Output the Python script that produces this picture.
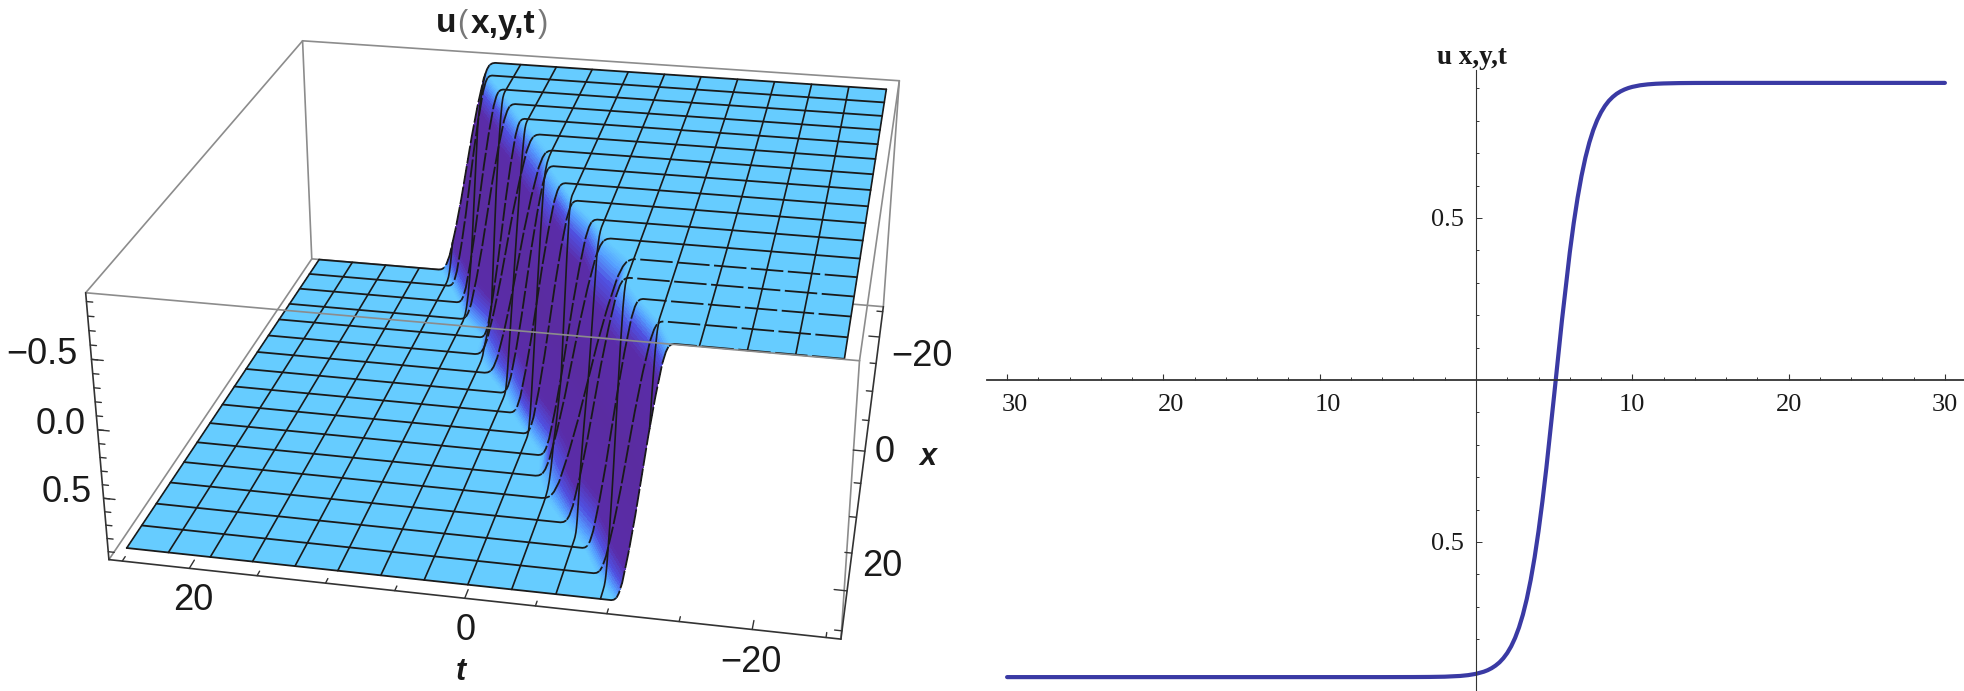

import numpy as np, pandas as pd, matplotlib
matplotlib.use("Agg")
import matplotlib.pyplot as plt, seaborn as sns
from matplotlib.colors import LinearSegmentedColormap
from matplotlib.transforms import ScaledTranslation

W,H=1965,691
t_curve=[-30,-20,-10,-6,-4,-3,-2,-1,-.5,0,.5,.75,1,1.25,1.5,1.75,2,2.25,2.5,2.75,3,3.25,3.5,3.75,4,4.25,4.5,5,5.5,6,6.25,6.5,6.75,7,7.25,7.5,7.75,8,8.25,8.5,8.75,9,9.25,9.5,9.75,10,10.5,11,11.5,12,13,14,16,20,30]
u_curve=[-.917,-.917,-.917,-.917,-.9168,-.9165,-.9157,-.9134,-.9109,-.9069,-.9003,-.8956,-.8894,-.8815,-.8716,-.8587,-.8425,-.8220,-.7962,-.7640,-.7243,-.6757,-.6170,-.5475,-.4665,-.3744,-.2722,-.0468,.1845,.3937,.4836,.5622,.6297,.6863,.7329,.7711,.8018,.8263,.8460,.8616,.8737,.8834,.8908,.8966,.9012,.9047,.9096,.9125,.9143,.9153,.9164,.9168,.917,.917,.917]
x_rows=[-25+3.125*i for i in range(17)]
t_high=[9.0,8.5,6.9,5.3,3.8,2.1,.5,-.3,-1.8,-3.3,-5.3,-6.7,-8.9,-9.1,-10.6,-12.4,-13.6]
t_low=[13.3,11.8,10.3,9.2,6.9,6.5,5.0,3.1,1.7,0.0,-1.8,-2.3,-3.5,-5.3,-7.4,-8.8,-10.5]
wall_s=[-.12,-.06,0,.05,.12,.25,.38,.5,.62,.75,.88,.95,1,1.06,1.12]
wall_u=[-.917,-.912,-.895,-.86,-.78,-.55,-.28,0,.28,.55,.78,.86,.895,.912,.917]
wall_tone=[1,.85,1,.7,1,.65,.95,.6,1,.7,.95,.55,.9,.6,.85,1]
z_major=[-.5,0,.5]; z_minor=[round(-.9+.1*i,1) for i in range(19)]
t_major=[20,0,-20]; t_minor=[-25,-15,-10,-5,5,10,15,25]
x_major=[-20,0,20]; x_minor=[-25,-15,-10,-5,5,10,15,25]
curve_ticks=[-30,-20,-10,10,20,30]
curve_tick_labels=["30","20","10","10","20","30"]

sns.set_theme(style="white")
plt.rcParams['font.family']=['Liberation Sans','DejaVu Sans']
fig=plt.figure(figsize=(W/100,H/100),dpi=100)
ax=fig.add_axes([0.023000625756745618,-0.16542207108835205,0.48676295109511974,1.422257161576125],projection='3d')
LT,LX,LZ=26,26,.96
ax.set_xlim(-LT,LT);ax.set_ylim(-LX,LX);ax.set_zlim(-LZ,LZ)
ax.view_init(25.0069,100.8665,-0.1142);ax.set_proj_type('persp',focal_length=.4435);ax.set_box_aspect((1,1.0068,.3927))
ax.apply_aspect=lambda position=None:None
ax.set_axis_off();ax.computed_zorder=False
X=np.array(x_rows);t_hi=np.array(t_high);t_lo=np.array(t_low)
ws=np.array(wall_s);wu=np.array(wall_u)
s_fine=np.linspace(ws[0],ws[-1],73)
u_fine=np.interp(s_fine,ws,wu)
S=np.r_[ws[0],s_fine,ws[-1]]
U=np.r_[wu[0],u_fine,wu[-1]]
T=np.clip(t_hi[:,None]+(t_lo-t_hi)[:,None]*S[None,:],-25,25);T[:,0]=-25;T[:,-1]=25
Y=np.repeat(X[:,None],len(S),axis=1);Z=-np.repeat(U[None,:],len(X),axis=0)
cm=LinearSegmentedColormap.from_list('w',[(0,'#5A2CA0'),(.72,'#5A2CA8'),(.86,'#5050E0'),(.95,'#55A0FF'),(1,'#66CCFF')])
um=np.abs(.5*(U[:-1]+U[1:]))/.917
fc=cm(np.array([um**k for k in wall_tone]))
GR='#8c8c8c';DK='#333333'
def edge(a,b,c=GR,lw=1.2,z=1):
    ax.plot([a[0],b[0]],[a[1],b[1]],[a[2],b[2]],color=c,lw=lw,zorder=z)
A=[(LT,-LX,LZ),(-LT,-LX,LZ),(-LT,LX,LZ),(LT,LX,LZ)]
B=[(LT,-LX,-LZ),(-LT,-LX,-LZ),(-LT,LX,-LZ),(LT,LX,-LZ)]
edge(A[0],A[1]);edge(A[0],A[3]);edge(A[0],B[0]);edge(A[1],B[1]);edge(A[1],A[2]);edge(B[0],B[1]);edge(B[0],B[3])
ax.plot_surface(T,Y,Z,facecolors=fc,shade=False,linewidth=0,antialiased=False,rstride=1,cstride=1,zorder=2)
hi_part=S<=ws[2]; mid_part=(S>=ws[2])&(S<=ws[12]); lo_part=S>=ws[12]
for i in range(len(X)):
    hi_ls=(0,(18,2.5)) if i>=12 else '-'
    ax.plot(T[i][hi_part],Y[i][hi_part],Z[i][hi_part],color='k',lw=1.3,ls=hi_ls,zorder=3)
    ax.plot(T[i][mid_part],Y[i][mid_part],Z[i][mid_part],color='k',lw=1.3,ls=(0,(10,1.5)),zorder=3)
    ax.plot(T[i][lo_part],Y[i][lo_part],Z[i][lo_part],color='k',lw=1.3,zorder=3)
xd=np.linspace(-25,25,400);hd=np.interp(xd,X,t_hi);ld=np.interp(xd,X,t_lo)
for k in X:
    ax.plot(np.full_like(xd,k),xd,-np.interp((k-hd)/(ld-hd),ws,wu),color='k',lw=1.2,zorder=3)
edge(A[3],A[2],z=4);edge(A[2],B[2],z=4);edge(B[1],B[2],DK,z=4);edge(B[3],B[2],DK,z=4);edge(A[3],B[3],DK,z=4)
for v,d in [(v,.85) for v in z_major]+[(v,.45) for v in z_minor]:
    edge((LT,LX,-v),(LT-d,LX,-v),DK,1,4)
for v,d in [(v,1.1) for v in t_major]+[(v,.6) for v in t_minor]:
    edge((v,LX,-LZ),(v,LX-d,-LZ),DK,1,4)
for v,d in [(v,.9) for v in x_major]+[(v,.5) for v in x_minor]:
    edge((-LT,v,-LZ),(-LT+d,v,-LZ),DK,1,4)
def ptext(px,py,s,**kw):
    kw.setdefault('color','#1a1a1a')
    fig.text(px/W,1-py/H,s,ha='center',va='center',**kw)
ptext(446,24,"u",fontsize=24,fontweight='bold')
ptext(462,24,"(",fontsize=22,color='#777777')
ptext(503,24,"x,y,t",fontsize=24,fontweight='bold')
ptext(543,24,")",fontsize=22,color='#777777')
for s,px,py in [("\u22120.5",42,355),("0.0",61,425),("0.5",67,493),("20",193,600),("0",466,630),("\u221220",751,662),("\u221220",922,356),("0",885,452),("20",882,567)]:
    ptext(px,py,s,fontsize=26)
ptext(461,672,"t",fontsize=22,fontweight='bold',style='italic')
ptext(928,457,"x",fontsize=22,fontweight='bold',style='italic')
# right
L,R,Tp,Bt=987.5,1965,70,691
ax2=fig.add_axes([L/W,1-Bt/H,(R-L)/W,(Bt-Tp)/H])
df=pd.DataFrame({'t':t_curve,'u':u_curve})
sns.lineplot(data=df,x='t',y='u',ax=ax2,color='#3a3aa4',lw=3.0,estimator=None,sort=False,clip_on=False)
ax2.set_xlim((L-1476)/15.63,(R-1476)/15.63);ax2.set_ylim(-(Bt-380)/324,(380-Tp)/324)
ax2.set_xlabel('');ax2.set_ylabel('');ax2.patch.set_alpha(0)
for s in ['top','right']:ax2.spines[s].set_visible(False)
ax2.spines['left'].set_position(('data',0));ax2.spines['bottom'].set_position(('data',0))
ax2.spines['left'].set_linewidth(.8);ax2.spines['bottom'].set_linewidth(1.3)
ax2.spines['left'].set_color('#333333');ax2.spines['bottom'].set_color('#333333')
ax2.set_xticks(curve_ticks,curve_tick_labels,fontfamily='Liberation Serif',fontsize=19)
ax2.set_xticks([v for v in range(-30,31,2) if v%10],minor=True)
ax2.set_yticks([-.5,.5],["0.5","0.5"],fontfamily='Liberation Serif',fontsize=19)
ax2.set_yticks([round(-.9+.1*i,1) for i in range(19) if i not in (4,9,14)],minor=True)
ax2.tick_params(axis='x',which='major',direction='in',length=4,width=.8,pad=10,color='#333333',bottom=True,labelcolor='#1a1a1a')
ax2.tick_params(axis='x',which='minor',direction='in',length=2.2,width=.7,color='#333333',bottom=True)
ax2.tick_params(axis='y',which='major',direction='in',length=4,width=.7,pad=9,color='#333333',left=True,labelcolor='#1a1a1a')
ax2.tick_params(axis='y',which='minor',direction='in',length=2.4,width=.7,color='#333333',left=True)
tr=ScaledTranslation(8/100,0,fig.dpi_scale_trans)
for lab,v in zip(ax2.get_xticklabels(),curve_ticks):
    if v<0:lab.set_transform(lab.get_transform()+tr)
ptext(1472,57,"u x,y,t",fontsize=19.5,fontweight='bold',fontfamily='Liberation Serif',color='k')
fig.savefig('out.png',dpi=100)
